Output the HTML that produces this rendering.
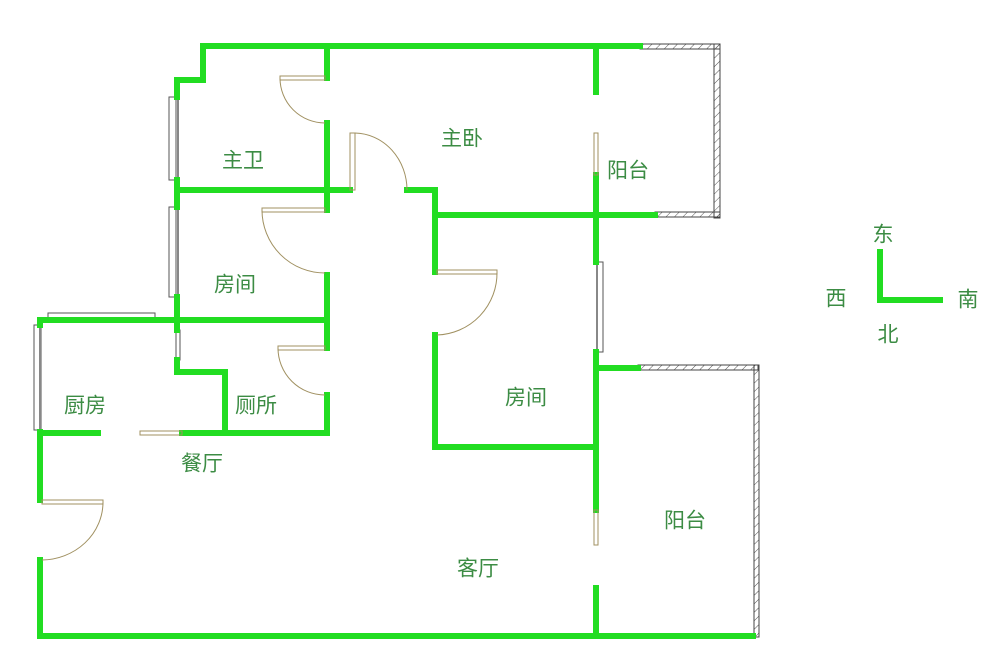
<!DOCTYPE html>
<html><head><meta charset="utf-8"><style>
body{margin:0;background:#fff;}
svg{display:block}
text{font-family:"Liberation Sans","Noto Sans CJK SC",sans-serif;font-size:21px;fill:#3c8c44;text-anchor:middle;dominant-baseline:middle}
</style></head><body>
<svg width="1000" height="648" viewBox="0 0 1000 648">
<defs>
<pattern id="h" width="6" height="6" patternUnits="userSpaceOnUse" patternTransform="rotate(45)">
<line x1="0" y1="0" x2="0" y2="6" stroke="#555" stroke-width="1"/></pattern>
</defs>
<g fill="url(#h)" stroke="#444" stroke-width="1">
<rect x="640" y="44" width="80" height="5"/>
<rect x="714" y="44" width="6" height="174"/>
<rect x="655" y="212" width="65" height="5"/>
<rect x="638" y="365" width="120" height="5"/>
<rect x="754" y="365" width="5" height="272"/>
</g>
<g fill="#fff" stroke="#555" stroke-width="1">
<rect x="169" y="97" width="7" height="83"/>
<rect x="169" y="207" width="7" height="90"/>
<rect x="34" y="325" width="7" height="105"/>
<rect x="48" y="313" width="107" height="7"/>
<rect x="597" y="262" width="6" height="90"/>
<rect x="176" y="330" width="4" height="30"/>
</g>
<g stroke="#888" stroke-width="2">
<line x1="178" y1="97" x2="178" y2="180"/><line x1="178" y1="207" x2="178" y2="297"/>
<line x1="40" y1="325" x2="40" y2="430"/><line x1="55" y1="321" x2="155" y2="321"/>
<line x1="597" y1="262" x2="597" y2="352"/>
</g>
<g stroke="#22dd22" stroke-width="6" fill="none" stroke-linecap="square">
<polyline points="640,46 203,46 203,80 177,80 177,97"/>
<line x1="177" y1="180" x2="177" y2="207"/>
<line x1="177" y1="297" x2="177" y2="330"/>
<polyline points="177,360 177,372 225,372 225,433"/>
<line x1="177" y1="190" x2="350" y2="190"/>
<line x1="327" y1="46" x2="327" y2="78"/>
<line x1="327" y1="123" x2="327" y2="210"/>
<line x1="327" y1="275" x2="327" y2="322"/>
<line x1="327" y1="348" x2="327" y2="322"/>
<line x1="327" y1="395" x2="327" y2="433"/>
<polyline points="40,320 327,320"/>
<line x1="40" y1="320" x2="40" y2="325"/>
<polyline points="407,190 435,190 435,215 655,215"/>
<line x1="435" y1="215" x2="435" y2="272"/>
<polyline points="435,335 435,447 596,447"/>
<line x1="596" y1="46" x2="596" y2="92"/>
<line x1="596" y1="175" x2="596" y2="262"/>
<line x1="596" y1="352" x2="596" y2="510"/>
<line x1="596" y1="588" x2="596" y2="636"/>
<line x1="596" y1="368" x2="638" y2="368"/>
<line x1="40" y1="636" x2="753" y2="636"/>
<line x1="40" y1="432" x2="40" y2="500"/>
<line x1="40" y1="560" x2="40" y2="636"/>
<line x1="40" y1="433" x2="98" y2="433"/>
<line x1="182" y1="433" x2="327" y2="433"/>
<line x1="880" y1="252" x2="880" y2="300"/>
<line x1="880" y1="300" x2="940" y2="300"/>
</g>
<g stroke="#a09060" stroke-width="1" fill="none">
<rect x="280" y="76" width="45" height="4"/><path d="M280,78 A45,45 0 0 0 325,123"/>
<rect x="350" y="133" width="5" height="57"/><path d="M355,133 A53,57 0 0 1 407,190"/>
<rect x="262" y="208" width="63" height="4"/><path d="M262,210 A63,63 0 0 0 325,273"/>
<rect x="278" y="346" width="47" height="4"/><path d="M278,348 A47,47 0 0 0 325,395"/>
<rect x="437" y="270" width="60" height="4"/><path d="M497,272 A62,62 0 0 1 437,335"/>
<rect x="42" y="500" width="61" height="4"/><path d="M103,502 A62,58 0 0 1 42,560"/>
<rect x="140" y="431" width="42" height="4"/>
<rect x="594" y="133" width="4" height="42"/>
<rect x="594" y="510" width="4" height="35"/>
</g>
<text x="243" y="162">主卫</text>
<text x="462" y="140">主卧</text>
<text x="628" y="172">阳台</text>
<text x="235" y="286">房间</text>
<text x="526" y="399">房间</text>
<text x="85" y="407">厨房</text>
<text x="256" y="407">厕所</text>
<text x="202" y="465">餐厅</text>
<text x="478" y="570">客厅</text>
<text x="685" y="522">阳台</text>
<text x="883" y="236">东</text>
<text x="836" y="300">西</text>
<text x="968" y="301">南</text>
<text x="888" y="336">北</text>
</svg>
</body></html>
